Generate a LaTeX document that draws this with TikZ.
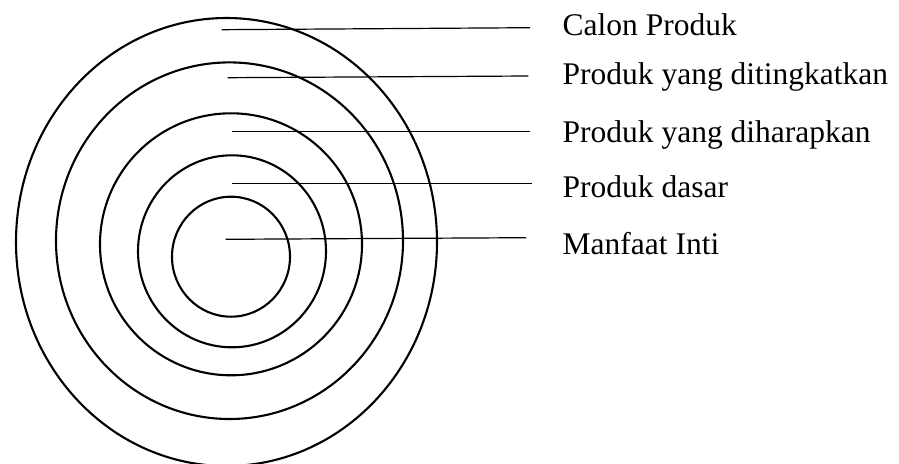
\documentclass[tikz,border=0pt]{standalone}
\usepackage{fontspec}
\setmainfont{Liberation Serif}
\begin{document}
\begin{tikzpicture}[x=1pt,y=-1pt,
  ring/.style={line width=2.1pt, black},
  leader/.style={line width=1.2pt, black},
  lbl/.style={anchor=base west, inner sep=0pt, font=\fontsize{31.5}{36}\selectfont}]
\useasboundingbox (0,0) rectangle (899,463);
\clip (0,0) rectangle (899,463);
\fill[white] (0,0) rectangle (899,463);
% rings
\draw[ring] (226.5,242) ellipse [x radius=210.5, y radius=224];
\draw[ring] (229.5,240.7) ellipse [x radius=173.5, y radius=178.3];
\draw[ring] (231,244.3) ellipse [x radius=131, y radius=131];
\draw[ring] (232,251.3) ellipse [x radius=94, y radius=96];
\draw[ring] (231,256.7) ellipse [x radius=59, y radius=60];
% labels
\node[lbl] (t1) at (562.5,35.5) {Calon Produk};
\node[lbl] (t2) at (562.5,84) {Produk yang ditingkatkan};
\node[lbl] (t3) at (562.5,142.5) {Produk yang diharapkan};
\node[lbl] (t4) at (562.5,197.5) {Produk dasar};
\node[lbl] (t5) at (562.5,254.5) {Manfaat Inti};
% leader lines
\coordinate (s1) at (221.7,29.7); \coordinate (e1) at (530,27.7);
\coordinate (s2) at (227.7,77.7); \coordinate (e2) at (528.3,76);
\coordinate (s3) at (231.7,131.7); \coordinate (e3) at (530,131.7);
\coordinate (s4) at (231.7,183.7); \coordinate (e4) at (532.3,183.7);
\coordinate (s5) at (225.7,239.3); \coordinate (e5) at (526,237.7);
\draw[leader] (s1) -- (e1);
\draw[leader] (s2) -- (e2);
\draw[leader] (s3) -- (e3);
\draw[leader] (s4) -- (e4);
\draw[leader] (s5) -- (e5);
\end{tikzpicture}
\end{document}
